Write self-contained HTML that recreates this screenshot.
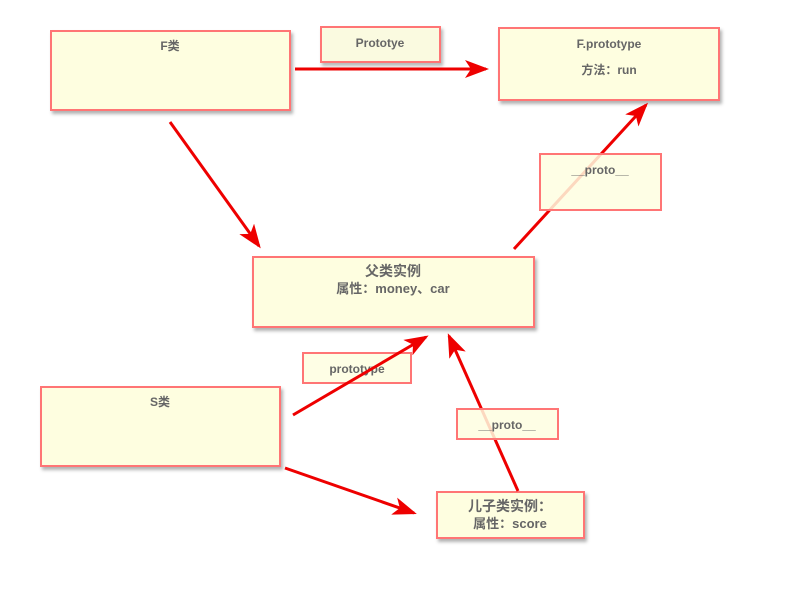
<!DOCTYPE html>
<html><head><meta charset="utf-8"><style>
html,body{margin:0;padding:0;background:#fff;width:800px;height:600px;overflow:hidden}
text{font-family:"Liberation Sans","Noto Sans CJK SC",sans-serif;font-weight:bold;fill:#666;font-size:12px;text-anchor:middle}
.b{fill:#fefee0;stroke:#ff7575;stroke-width:2;filter:url(#sh)}
.l{fill:#fefee0;stroke:#ff7575;stroke-width:2;fill-opacity:0.85}
.a{stroke:#ee0000;stroke-width:3;fill:none;marker-end:url(#ar)}
</style></head><body>
<svg width="800" height="600" xmlns="http://www.w3.org/2000/svg">
<defs>
<filter id="sh" x="-10%" y="-10%" width="130%" height="140%"><feDropShadow dx="2" dy="3" stdDeviation="1.5" flood-color="#000" flood-opacity="0.3"/></filter>
<marker id="ar" markerWidth="8" markerHeight="6" refX="7" refY="3" orient="auto" markerUnits="strokeWidth"><path d="M0,0 L8,3 L0,6 L2,3 Z" fill="#ee0000"/></marker>
</defs>
<rect class="b" x="51" y="31" width="239" height="79"/>
<text x="170" y="50">F类</text>
<rect class="b" x="499" y="28" width="220" height="72"/>
<text x="609" y="48">F.prototype</text>
<text x="609" y="74">方法：run</text>
<rect class="b" x="253" y="257" width="281" height="70"/>
<text x="393" y="276" style="font-size:14px">父类实例</text>
<text x="393" y="293" style="font-size:13px">属性：money、car</text>
<rect class="b" x="41" y="387" width="239" height="79"/>
<text x="160" y="406">S类</text>
<rect class="b" x="437" y="492" width="147" height="46"/>
<text x="510" y="511" style="font-size:14px">儿子类实例：</text>
<text x="510" y="528" style="font-size:13px">属性：score</text>
<rect class="l" x="321" y="27" width="119" height="35" style="filter:url(#sh)"/>
<text x="380" y="47">Prototye</text>
<rect class="l" x="303" y="353" width="108" height="30"/>
<text x="357" y="373">prototype</text>
<line class="a" x1="295" y1="69" x2="486" y2="69"/>
<line class="a" x1="170" y1="122" x2="259" y2="246"/>
<line class="a" x1="514" y1="249" x2="646" y2="105"/>
<line class="a" x1="293" y1="415" x2="426" y2="337"/>
<line class="a" x1="285" y1="468" x2="414" y2="513"/>
<line class="a" x1="518" y1="491" x2="449" y2="336"/>
<rect class="l" x="540" y="154" width="121" height="56"/>
<text x="600" y="174">__proto__</text>
<rect class="l" x="457" y="409" width="101" height="30"/>
<text x="507" y="429">__proto__</text>
</svg>
</body></html>
